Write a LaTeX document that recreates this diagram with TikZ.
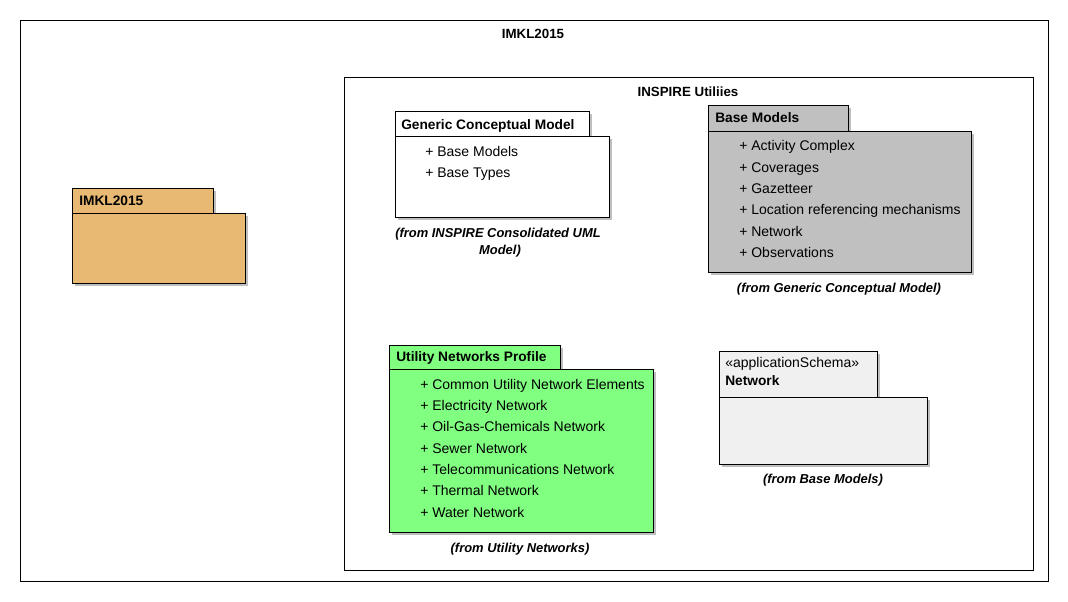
\documentclass[tikz,border=0pt]{standalone}
\usepackage{fontspec}
\setmainfont{Liberation Sans}
\usetikzlibrary{positioning,fit,shadows}

\definecolor{imklorange}{RGB}{232,185,114}
\definecolor{basegray}{RGB}{192,192,192}
\definecolor{utilgreen}{RGB}{128,255,128}
\definecolor{netgray}{RGB}{240,240,240}
\definecolor{shadowgray}{RGB}{190,190,190}

\begin{document}
\begin{tikzpicture}
        [
        x=0.75pt, y=-0.75pt,
        frame/.style={draw, line width=0.75pt, inner sep=0pt},
        pkg/.style={draw, line width=0.75pt, inner sep=0pt,
            drop shadow={shadow xshift=2.5pt, shadow yshift=-2.5pt, fill=shadowgray, opacity=1}},
        frametitle/.style={anchor=base, inner sep=0pt, font=\bfseries\fontsize{10}{12}\selectfont},
        tabtext/.style={anchor=base west, inner sep=0pt, font=\bfseries\fontsize{10.3}{12}\selectfont},
        member/.style={anchor=base west, inner sep=0pt, font=\fontsize{10.5}{12}\selectfont},
        fromnote/.style={anchor=base, inner sep=0pt, font=\bfseries\itshape\fontsize{9.7}{12}\selectfont}
        ]
    \useasboundingbox[fill=white] (0,0) rectangle (1068,601);

    % frames
    \node[frame, fit={(20,20) (1048,581)}] (imkl) {};
    \node[frametitle] (imkltitle) at (533,38) {IMKL2015};
    \node[frame, fit={(344,77) (1033,570)}] (inspire) {};
    \node[frametitle] (inspiretitle) at (688,96) {INSPIRE Utiliies};

    % IMKL2015 package
    \node[pkg, fill=imklorange, fit={(72,188) (213,213)}] (imkltab) {};
    \node[pkg, fill=imklorange, fit={(72,213) (245,283)}] (imklbody) {};
    \node[tabtext] (imklname) at (79,205) {IMKL2015};

    % Generic Conceptual Model
    \node[pkg, fill=white, fit={(395,111) (589,136)}] (gcmtab) {};
    \node[pkg, fill=white, fit={(395,136) (609,217)}] (gcmbody) {};
    \node[tabtext] (gcmname) at (401,129) {Generic Conceptual Model};
    \node[member] (gcm1) at (425,156) {+ Base Models};
    \node[member] (gcm2) at (425,177) {+ Base Types};
    \node[fromnote] (gcmfrom) at (498,237) {(from INSPIRE Consolidated UML};
    \node[fromnote] (gcmfrom2) at (500,254) {Model)};

    % Base Models
    \node[pkg, fill=basegray, fit={(708,105) (848,131)}] (bmtab) {};
    \node[pkg, fill=basegray, fit={(708,131) (971,272)}] (bmbody) {};
    \node[tabtext] (bmname) at (715,122) {Base Models};
    \node[member] (bm1) at (739,150) {+ Activity Complex};
    \node[member] (bm2) at (739,172) {+ Coverages};
    \node[member] (bm3) at (739,193) {+ Gazetteer};
    \node[member] (bm4) at (739,214) {+ Location referencing mechanisms};
    \node[member] (bm5) at (739,236) {+ Network};
    \node[member] (bm6) at (739,257) {+ Observations};
    \node[fromnote] (bmfrom) at (839,292) {(from Generic Conceptual Model)};

    % Utility Networks Profile
    \node[pkg, fill=utilgreen, fit={(389,345) (560,369)}] (untab) {};
    \node[pkg, fill=utilgreen, fit={(389,369) (653,532)}] (unbody) {};
    \node[tabtext] (unname) at (396,361) {Utility Networks Profile};
    \node[member] (un1) at (420,389) {+ Common Utility Network Elements};
    \node[member] (un2) at (420,410) {+ Electricity Network};
    \node[member] (un3) at (420,431) {+ Oil-Gas-Chemicals Network};
    \node[member] (un4) at (420,453) {+ Sewer Network};
    \node[member] (un5) at (420,474) {+ Telecommunications Network};
    \node[member] (un6) at (420,495) {+ Thermal Network};
    \node[member] (un7) at (420,517) {+ Water Network};
    \node[fromnote] (unfrom) at (520,552) {(from Utility Networks)};

    % Network
    \node[pkg, fill=netgray, fit={(719,351) (877,397)}] (nettab) {};
    \node[pkg, fill=netgray, fit={(719,397) (927,464)}] (netbody) {};
    \node[member] (netstereo) at (725,367) {«applicationSchema»};
    \node[tabtext] (netname) at (725,385) {Network};
    \node[fromnote] (netfrom) at (823,483) {(from Base Models)};
    \end{tikzpicture}
\end{document}
